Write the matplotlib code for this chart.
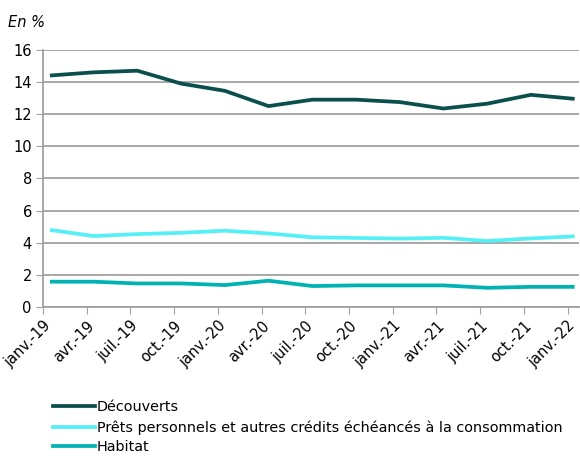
import matplotlib
matplotlib.use("Agg")
import matplotlib.pyplot as plt
import matplotlib.transforms as mtransforms
from matplotlib.lines import Line2D

# données (en %)
mois = ["janv.-19", "avr.-19", "juil.-19", "oct.-19", "janv.-20", "avr.-20",
        "juil.-20", "oct.-20", "janv.-21", "avr.-21", "juil.-21", "oct.-21",
        "janv.-22"]
decouverts = [14.4, 14.6, 14.7, 13.9, 13.45, 12.5, 12.9, 12.9, 12.75, 12.35,
              12.65, 13.2, 12.95]
prets_perso = [4.8, 4.42, 4.54, 4.62, 4.75, 4.58, 4.34, 4.3, 4.26, 4.31,
               4.11, 4.27, 4.4]
habitat = [1.58, 1.58, 1.47, 1.47, 1.37, 1.64, 1.31, 1.35, 1.35, 1.35,
           1.2, 1.26, 1.26]
noms = ["Découverts",
        "Prêts personnels et autres crédits échéancés à la consommation",
        "Habitat"]
couleurs = ["#0a4f4c", "#55f0f5", "#00b2b2"]

plt.rcParams["font.family"] = ["DejaVu Sans"]
GRIS = "#a0a0a0"

fig = plt.figure(figsize=(5.8, 4.57), dpi=100)
ax = fig.add_axes([0.074, 0.328, 0.925, 0.563])

pos = range(len(mois))
xs = [p + 0.16 for p in pos]  # points en milieu de mois
for serie, c in zip([decouverts, prets_perso, habitat], couleurs):
    ax.plot(xs, serie, color=c, lw=2.7, solid_capstyle="butt")

ax.set_ylim(0, 16)
ax.set_yticks(range(0, 17, 2))
ax.set_xlim(0, 12.27)
ax.set_xticks(list(pos))
ax.set_xticklabels(mois, rotation=45, ha="right", rotation_mode="anchor",
                   fontsize=10.5)
decal = mtransforms.ScaledTranslation(0.14, -0.02, fig.dpi_scale_trans)
for lab in ax.get_xticklabels():
    lab.set_transform(lab.get_transform() + decal)
ax.tick_params(axis="y", labelsize=10.5, length=5, color=GRIS, pad=3)
ax.tick_params(axis="x", length=5, color=GRIS, pad=3)
ax.grid(axis="y", color=GRIS, lw=1.3)
ax.set_axisbelow(True)
for s in ["top", "right"]:
    ax.spines[s].set_visible(False)
for s in ["left", "bottom"]:
    ax.spines[s].set_color(GRIS)
    ax.spines[s].set_linewidth(1.3)

fig.text(0.014, 0.951, "En %", style="italic", fontsize=10.5, va="center")

handles = [Line2D([], [], color=c, lw=2.7) for c in couleurs]
fig.legend(handles, noms, loc="upper left", bbox_to_anchor=(0.092, 0.124),
           frameon=False, fontsize=10.4, handlelength=2.9, handletextpad=0.1,
           labelspacing=0.4, borderaxespad=0, borderpad=0)

fig.savefig("out.png", dpi=100)
